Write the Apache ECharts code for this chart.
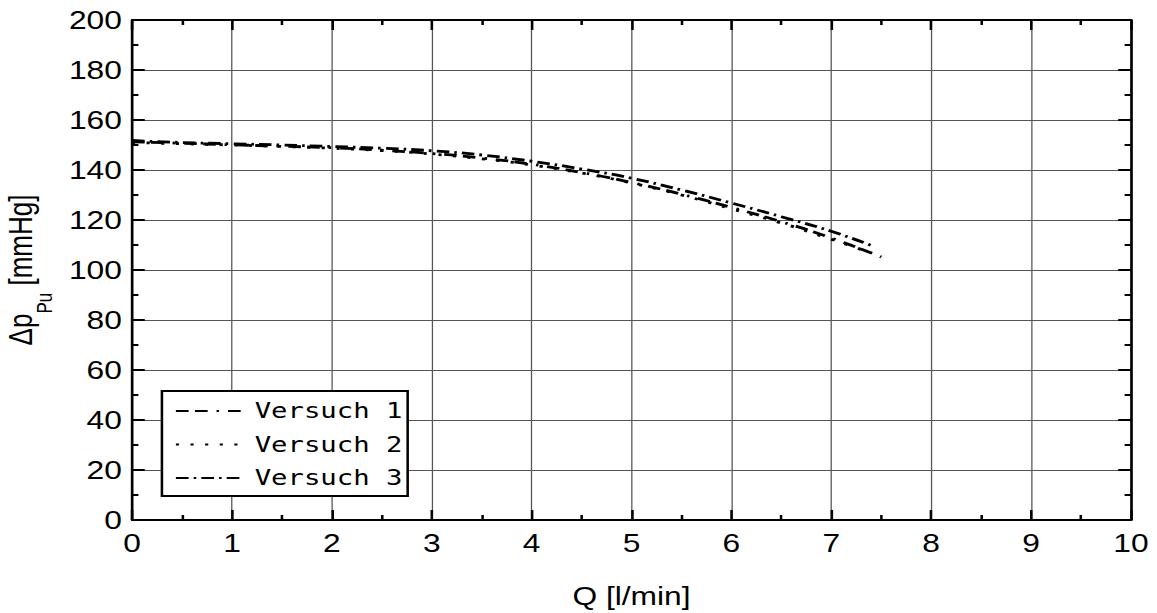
<!DOCTYPE html>
<html>
<head>
<meta charset="utf-8">
<script src="https://cdn.jsdelivr.net/npm/echarts@6/dist/echarts.min.js"></script>
<style>
  html, body { margin: 0; padding: 0; background: #fff; overflow: hidden; }
  /* the figure is drawn narrower and widened, giving its broad letterforms */
  #chart { width: 911px; height: 613px; transform: scaleX(1.27); transform-origin: 0 0; }
</style>
</head>
<body>
<div id="chart"></div>
<script>
// Pump pressure head over flow rate, three test runs
const seriesNames = ['Versuch 1', 'Versuch 2', 'Versuch 3'];

const flowV1 = [0, 0.5, 1, 1.5, 2, 2.5, 3, 3.5, 4, 4.5, 5, 5.5, 6, 6.5, 7, 7.5];
const dpV1   = [151.3, 150.7, 150.1, 149.5, 148.9, 147.9, 146.6, 144.8, 142.3, 139.0, 135.0, 130.3, 125.0, 119.3, 112.8, 105.2];

const flowV2 = [0, 0.5, 1, 1.5, 2, 2.5, 3, 3.5, 4, 4.5, 5, 5.5, 6, 6.5, 7, 7.4];
const dpV2   = [151.0, 150.5, 150.0, 149.4, 148.7, 147.8, 146.4, 144.5, 142.0, 138.8, 134.8, 130.0, 124.5, 118.8, 112.3, 106.8];

const flowV3 = [0, 0.5, 1, 1.5, 2, 2.5, 3, 3.5, 4, 4.5, 5, 5.5, 6, 6.5, 7, 7.4];
const dpV3   = [151.8, 151.0, 150.5, 150.0, 149.4, 148.7, 147.7, 146.0, 143.5, 140.4, 136.7, 132.0, 126.8, 121.3, 115.5, 109.8];

const xTicks = [0, 1, 2, 3, 4, 5, 6, 7, 8, 9, 10];
const yTicks = [0, 20, 40, 60, 80, 100, 120, 140, 160, 180, 200];

// dash patterns: dash-dash-dot, dotted, dash-dot
const dashV1 = [10, 5, 10, 7, 2, 7];
const dashV2 = [2.5, 9];
const dashV3 = [10, 4, 2, 4];

function pairs(xs, ys) { return xs.map((x, i) => [x, ys[i]]); }

const sansFont = 'Liberation Sans, Arial, sans-serif';
const labelFont = { fontFamily: sansFont, fontSize: 25, color: '#000' };

const frameLine = { show: true, onZero: false, lineStyle: { color: '#000', width: 2 } };
const majorTick = { show: true, inside: true, length: 10, lineStyle: { color: '#000', width: 2 } };
const minorTick = { show: true, splitNumber: 2, length: 5, lineStyle: { color: '#000', width: 2 } };
const gridLine = { show: true, lineStyle: { color: '#555', width: 1 } };

function mirrorAxis(pos, ticks) {
  return {
    type: 'value', position: pos,
    min: ticks[0], max: ticks[ticks.length - 1], interval: ticks[1] - ticks[0],
    axisLine: frameLine, axisTick: majorTick, minorTick: minorTick,
    axisLabel: { show: false }, splitLine: { show: false }
  };
}

const chart = echarts.init(document.getElementById('chart'), null, { renderer: 'svg' });

const lineSeries = (name, xs, ys, dash) => ({
  name, type: 'line', data: pairs(xs, ys), smooth: true,
  showSymbol: false, symbol: 'none',
  lineStyle: { color: '#000', width: 2.8, type: dash, cap: 'butt' },
  itemStyle: { color: '#000' },
  xAxisIndex: 0, yAxisIndex: 0
});

chart.setOption({
  animation: false,
  backgroundColor: '#fff',
  grid: { left: 104, right: 20.5, top: 20, bottom: 93, containLabel: false, outerBoundsMode: 'none' },
  xAxis: [
    {
      type: 'value', position: 'bottom',
      min: xTicks[0], max: xTicks[xTicks.length - 1], interval: xTicks[1] - xTicks[0],
      name: 'Q [l/min]', nameLocation: 'middle', nameGap: 64,
      nameTextStyle: labelFont,
      axisLine: frameLine, axisTick: majorTick, minorTick: minorTick,
      axisLabel: Object.assign({ margin: 11 }, labelFont),
      splitLine: gridLine
    },
    mirrorAxis('top', xTicks)
  ],
  yAxis: [
    {
      type: 'value', position: 'left',
      min: yTicks[0], max: yTicks[yTicks.length - 1], interval: yTicks[1] - yTicks[0],
      name: '{m|Δp}{s|Pu}{m| [mmHg]}', nameLocation: 'middle', nameGap: 59, nameRotate: 90,
      nameTextStyle: {
        rich: {
          m: { fontFamily: sansFont, fontSize: 26, color: '#000', verticalAlign: 'bottom', lineHeight: 30 },
          s: { fontFamily: sansFont, fontSize: 17, color: '#000', verticalAlign: 'bottom', lineHeight: 30, padding: [0, 0, -14, 0] }
        }
      },
      axisLine: frameLine, axisTick: majorTick, minorTick: minorTick,
      axisLabel: Object.assign({ margin: 8 }, labelFont),
      splitLine: gridLine
    },
    mirrorAxis('right', yTicks)
  ],
  legend: {
    orient: 'vertical', left: 127.5, top: 391,
    padding: [8, 4, 6, 10],
    itemGap: 9.5, itemWidth: 51, itemHeight: 24,
    backgroundColor: '#fff', borderColor: '#000', borderWidth: 2, borderRadius: 0,
    itemStyle: { opacity: 0 },
    textStyle: { fontFamily: 'DejaVu Sans Mono, monospace', fontSize: 21.5, lineHeight: 24, color: '#000', padding: [0, 0, 0, 6] },
    data: seriesNames
  },
  series: [
    lineSeries(seriesNames[0], flowV1, dpV1, dashV1),
    lineSeries(seriesNames[1], flowV2, dpV2, dashV2),
    lineSeries(seriesNames[2], flowV3, dpV3, dashV3)
  ]
});
</script>
</body>
</html>
